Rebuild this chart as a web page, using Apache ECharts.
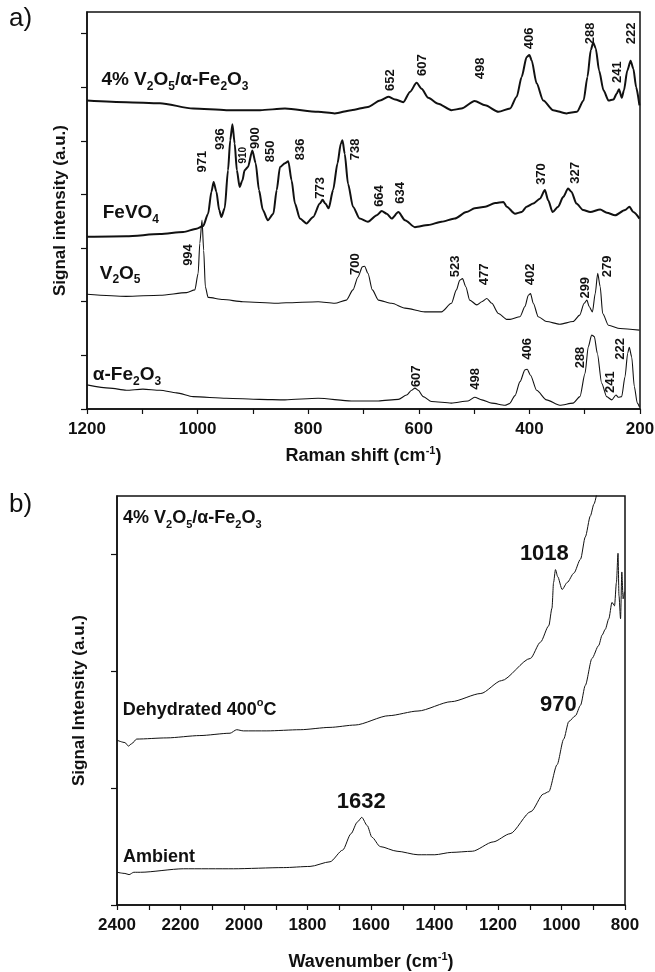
<!DOCTYPE html>
<html>
<head>
<meta charset="utf-8">
<script src="https://cdn.jsdelivr.net/npm/echarts@6/dist/echarts.min.js"></script>
<style>
html,body{margin:0;padding:0;background:#fff;}
#main{width:655px;height:972px;}
</style>
</head>
<body>
<div id="main"></div>
<script>
// a) Raman spectra, [Raman shift cm-1, offset intensity a.u.]
var raman4pct = [[1200,5.75],[1129,5.72],[1068,5.70],[1008,5.60],[948,5.57],[887,5.57],[842,5.60],[782,5.54],[752,5.51],[722,5.57],[692,5.63],[670,5.75],[655,5.82],[643,5.77],[628,5.72],[616,5.91],[604,6.08],[595,5.97],[583,5.80],[565,5.69],[541,5.57],[523,5.60],[499,5.74],[480,5.66],[456,5.54],[435,5.60],[423,5.82],[414,6.19],[405,6.56],[400,6.60],[396,6.50],[387,6.07],[375,5.75],[357,5.57],[333,5.51],[314,5.54],[302,5.75],[295,6.19],[289,6.69],[284.5,6.83],[280,6.72],[274,6.31],[266,5.94],[257,5.75],[248,5.77],[242,5.88],[238,5.96],[233,5.80],[229,5.94],[223,6.31],[217,6.49],[212,6.34],[207,6.00],[201,5.66]];
var ramanFeVO4 = [[1200,3.21],[1129,3.22],[1068,3.26],[1026,3.30],[1002,3.36],[990,3.41],[981,3.64],[975,4.05],[971,4.23],[966,4.05],[961,3.71],[957,3.58],[951,3.74],[945,4.45],[941,5.01],[937,5.31],[933,4.95],[929,4.45],[924,4.14],[919,4.26],[915,4.45],[909,4.51],[901,4.82],[895,4.58],[889,4.08],[882,3.71],[873,3.52],[863,3.64],[857,4.08],[851,4.51],[842,4.58],[836,4.62],[830,4.26],[824,3.83],[815,3.55],[803,3.46],[791,3.58],[779,3.83],[774,3.90],[769,3.83],[763,3.74],[755,4.08],[747,4.58],[741,4.95],[738,5.01],[734,4.76],[728,4.20],[719,3.77],[707,3.55],[692,3.49],[676,3.61],[667,3.69],[658,3.64],[649,3.55],[637,3.67],[625,3.52],[607,3.39],[583,3.43],[559,3.49],[535,3.55],[514,3.67],[499,3.74],[480,3.77],[462,3.84],[447,3.86],[441,3.77],[426,3.64],[414,3.67],[405,3.77],[393,3.83],[381,3.92],[372,4.08],[366,3.89],[358,3.67],[348,3.77],[339,3.95],[330,4.11],[324,4.05],[315,3.83],[303,3.71],[290,3.67],[272,3.72],[260,3.66],[245,3.61],[227,3.71],[219,3.77],[212,3.67],[201,3.55]];
var ramanV2O5 = [[1200,2.14],[1129,2.10],[1068,2.12],[1020,2.17],[1005,2.22],[999,2.53],[996,3.09],[992,3.52],[989,2.96],[986,2.28],[981,2.08],[954,2.04],[918,2.00],[857,1.97],[840,1.98],[782,2.00],[752,1.97],[731,2.03],[719,2.22],[710,2.46],[702,2.65],[698,2.66],[692,2.53],[684,2.22],[673,2.03],[649,1.97],[625,1.88],[589,1.81],[559,1.81],[541,1.97],[532,2.22],[526,2.40],[521,2.43],[515,2.28],[508,2.03],[495,1.94],[486,2.00],[477,2.06],[468,1.97],[456,1.78],[441,1.67],[435,1.67],[417,1.72],[408,1.91],[402,2.12],[398,2.15],[393,1.97],[384,1.72],[369,1.63],[345,1.58],[321,1.63],[309,1.75],[301,1.97],[296,2.03],[292,1.91],[286,1.81],[281,2.15],[276.5,2.53],[272,2.28],[267.5,1.78],[257,1.56],[236,1.50],[201,1.47]];
var ramanFe2O3 = [[1200,0.45],[1159,0.39],[1129,0.35],[1099,0.37],[1068,0.35],[1038,0.30],[1008,0.23],[948,0.20],[888,0.18],[842,0.17],[782,0.20],[722,0.15],[673,0.15],[637,0.18],[622,0.26],[613,0.35],[607,0.39],[601,0.35],[592,0.23],[577,0.14],[541,0.11],[511,0.15],[499,0.22],[486,0.17],[468,0.11],[444,0.07],[436,0.10],[426,0.25],[417,0.51],[408,0.73],[404,0.74],[398,0.63],[387,0.35],[369,0.17],[345,0.07],[321,0.11],[308.6,0.23],[299.5,0.66],[293.5,1.16],[287.4,1.38],[282.6,1.35],[277.2,1.04],[269.3,0.48],[260.3,0.23],[251.2,0.17],[243.4,0.26],[239.3,0.22],[233.2,0.23],[227.1,0.60],[222.3,1.04],[219.4,1.15],[215,0.97],[210.3,0.42],[204.9,0.11],[201,0.04]];

// b) spectra, [wavenumber cm-1, offset intensity a.u.]
var irDehydrated = [[2400,1.41],[2375,1.39],[2364,1.36],[2354,1.38],[2338,1.42],[2243,1.43],[2139,1.45],[2044,1.47],[2023,1.50],[2002,1.49],[1928,1.49],[1823,1.50],[1729,1.52],[1650,1.54],[1544,1.62],[1452,1.66],[1347,1.74],[1254,1.81],[1189,1.92],[1098,2.11],[1066,2.25],[1040,2.39],[1030,2.54],[1025,2.76],[1019,2.87],[1012,2.81],[998,2.70],[982,2.76],[961,2.84],[940,2.96],[925,3.15],[909,3.33],[898,3.43],[882,3.62]];
var irAmbient = [[2400,0.28],[2375,0.27],[2362,0.26],[2347,0.28],[2326,0.28],[2191,0.31],[2033,0.31],[1876,0.32],[1792,0.33],[1729,0.37],[1689,0.47],[1663,0.61],[1643,0.71],[1629,0.75],[1612,0.68],[1597,0.58],[1571,0.50],[1518,0.46],[1452,0.43],[1399,0.43],[1347,0.45],[1281,0.46],[1215,0.54],[1162,0.61],[1096,0.80],[1057,0.95],[1040,0.97],[1014,1.20],[993,1.42],[977,1.57],[956,1.62],[940,1.71],[925,1.88],[904,2.11],[883,2.22],[872,2.31],[862,2.36],[851,2.45],[841,2.59],[833,2.56],[827,2.76],[822,3.01],[819,2.65],[814,2.45],[810,2.85],[806,2.62],[802,2.68]];

// peak labels [position, label height, text]
var peaks4pct = [[652,6.13,'652'],[594,6.41,'607'],[488,6.35,'498'],[400.5,6.91,'406'],[290.5,7.00,'288'],[241.6,6.28,'241'],[216.3,7.00,'222']];
var peaksFeVO4 = [[991.6,4.61,'971'],[958.5,5.03,'936'],[917.7,4.73,'910'],[895.7,5.05,'900'],[869,4.80,'850'],[813.7,4.84,'836'],[778.4,4.12,'773'],[714.2,4.84,'738'],[671.9,3.97,'664'],[632.4,4.03,'634'],[377.9,4.38,'370'],[317.6,4.40,'327']];
var peaksV2O5 = [[1017.3,2.87,'994'],[714.2,2.70,'700'],[533.2,2.66,'523'],[481.9,2.51,'477'],[397.5,2.51,'402'],[298,2.26,'299'],[258.8,2.66,'279']];
var peaksFe2O3 = [[604.7,0.61,'607'],[498.5,0.56,'498'],[404.4,1.12,'406'],[307,0.96,'288'],[252.8,0.50,'241'],[236.2,1.12,'222']];
var peaksIR = [[1054,3.00,'1018'],[1010,1.71,'970'],[1631,0.88,'1632']];

var namesA = [[1174,6.13,'4% V{sub|2}O{sub|5}/α-Fe{sub|2}O{sub|3}'],[1171.6,3.65,'FeVO{sub|4}'],[1177,2.53,'V{sub|2}O{sub|5}'],[1189.5,0.63,'α-Fe{sub|2}O{sub|3}']];
var namesB = [[2381,3.31,'4% V{sub|2}O{sub|5}/α-Fe{sub|2}O{sub|3}'],[2382,1.67,'Dehydrated 400{sup|o}C'],[2381,0.41,'Ambient']];

var ticksA = [0,1,2,3,4,5,6,7];
var ticksB = [0,1,2,3];

var FONT = "'Liberation Sans', Arial, Helvetica, sans-serif";
var INK = '#111';

var myChart = echarts.init(document.getElementById('main'));

function spec(data, idx, w){
	return {
		type:'line', xAxisIndex:idx, yAxisIndex:idx, data:data,
		showSymbol:false, symbol:'none', animation:false, silent:true,
		smooth:0.25, smoothMonotone:'x',
		lineStyle:{color:INK, width:w}
	};
}
// scatter with invisible symbols, only used to hang text on data coordinates
function textSeries(idx, items, label){
	return {
		type:'scatter', xAxisIndex:idx, yAxisIndex:idx, symbolSize:0, silent:true, animation:false, z:5,
		itemStyle:{opacity:1, color:INK},
		data:items, label:label
	};
}
function peakLabels(list, idx, size){
	return textSeries(idx, list.map(function(p){
		var item = {value:[p[0],p[1]], name:p[2]};
		if(p[2]=='910'){ item.label = {fontSize:10}; }
		return item;
	}), {show:true, position:'inside', rotate:90, formatter:'{b}', color:INK,
		fontFamily:FONT, fontWeight:'bold', fontSize:size});
}
function nameLabels(list, idx, size){
	var small = Math.round(size*0.62);
	return textSeries(idx, list.map(function(p){ return {value:[p[0],p[1]], name:p[2]}; }),
		{show:true, position:'right', distance:0, formatter:'{b}', color:INK,
			fontFamily:FONT, fontWeight:'bold', fontSize:size, lineHeight:size+6,
			rich:{
				sub:{fontFamily:FONT, fontWeight:'bold', fontSize:small, lineHeight:small, verticalAlign:'bottom', color:INK},
				sup:{fontFamily:FONT, fontWeight:'bold', fontSize:small, lineHeight:small, verticalAlign:'top', color:INK}
			}});
}
var richAxis = {
	sup:{fontFamily:FONT, fontWeight:'bold', fontSize:11, lineHeight:11, verticalAlign:'top', color:INK}
};
function xAx(idx, mn, mx, nm, gap){
	return {
		gridIndex:idx, type:'value', min:mn, max:mx, interval:200, inverse:true,
		axisLine:{show:true, onZero:false, lineStyle:{color:INK, width:1.5}},
		axisTick:{show:true, length:5, lineStyle:{color:INK, width:1.2}},
		minorTick:{show:true, splitNumber:2, length:5, lineStyle:{color:INK, width:1.2}},
		splitLine:{show:false}, minorSplitLine:{show:false},
		axisLabel:{fontFamily:FONT, fontWeight:'bold', color:INK, fontSize:17, margin:12,
			formatter:function(v){ return String(v); }},
		name:nm, nameLocation:'middle', nameGap:gap, nameMoveOverlap:false,
		nameTextStyle:{fontFamily:FONT, fontWeight:'bold', color:INK, fontSize:18, lineHeight:22, rich:richAxis}
	};
}
function yAx(idx, mx, ticks, nm, gap){
	return {
		gridIndex:idx, type:'value', min:0, max:mx,
		axisLine:{show:true, onZero:false, lineStyle:{color:INK, width:1.5}},
		axisTick:{show:true, length:6, customValues:ticks, lineStyle:{color:INK, width:1.2}},
		axisLabel:{show:false}, splitLine:{show:false},
		name:nm, nameLocation:'middle', nameGap:gap, nameMoveOverlap:false,
		nameTextStyle:{fontFamily:FONT, fontWeight:'bold', color:INK, fontSize:17}
	};
}

var option = {
	backgroundColor:'#fff',
	animation:false,
	graphic:[
		{type:'text', left:9, top:6, style:{text:'a)', font:'26px '+FONT, fill:INK}},
		{type:'text', left:9, top:492, style:{text:'b)', font:'26px '+FONT, fill:INK}}
	],
	grid:[
		{left:87, top:12, width:553, height:397, show:true, borderColor:INK, borderWidth:1.5, outerBoundsMode:'none'},
		{left:117, top:496, width:508, height:409, show:true, borderColor:INK, borderWidth:1.5, outerBoundsMode:'none'}
	],
	xAxis:[
		xAx(0, 200, 1200, 'Raman shift (cm{sup|-1})', 36),
		xAx(1, 800, 2400, 'Wavenumber (cm{sup|-1})', 46)
	],
	yAxis:[
		yAx(0, 7.4, ticksA, 'Signal intensity (a.u.)', 18),
		yAx(1, 3.5, ticksB, 'Signal Intensity (a.u.)', 29)
	],
	series:[
		spec(raman4pct, 0, 2),
		spec(ramanFeVO4, 0, 2),
		spec(ramanV2O5, 0, 1.1),
		spec(ramanFe2O3, 0, 1.1),
		spec(irDehydrated, 1, 1),
		spec(irAmbient, 1, 1),
		peakLabels(peaks4pct, 0, 13),
		peakLabels(peaksFeVO4, 0, 13),
		peakLabels(peaksV2O5, 0, 13),
		peakLabels(peaksFe2O3, 0, 13),
		nameLabels(namesA, 0, 19),
		nameLabels(namesB, 1, 18),
		textSeries(1, peaksIR.map(function(p){ return {value:[p[0],p[1]], name:p[2]}; }),
			{show:true, position:'inside', formatter:'{b}', color:INK, fontFamily:FONT, fontWeight:'bold', fontSize:22})
	]
};
myChart.setOption(option);
</script>
</body>
</html>
